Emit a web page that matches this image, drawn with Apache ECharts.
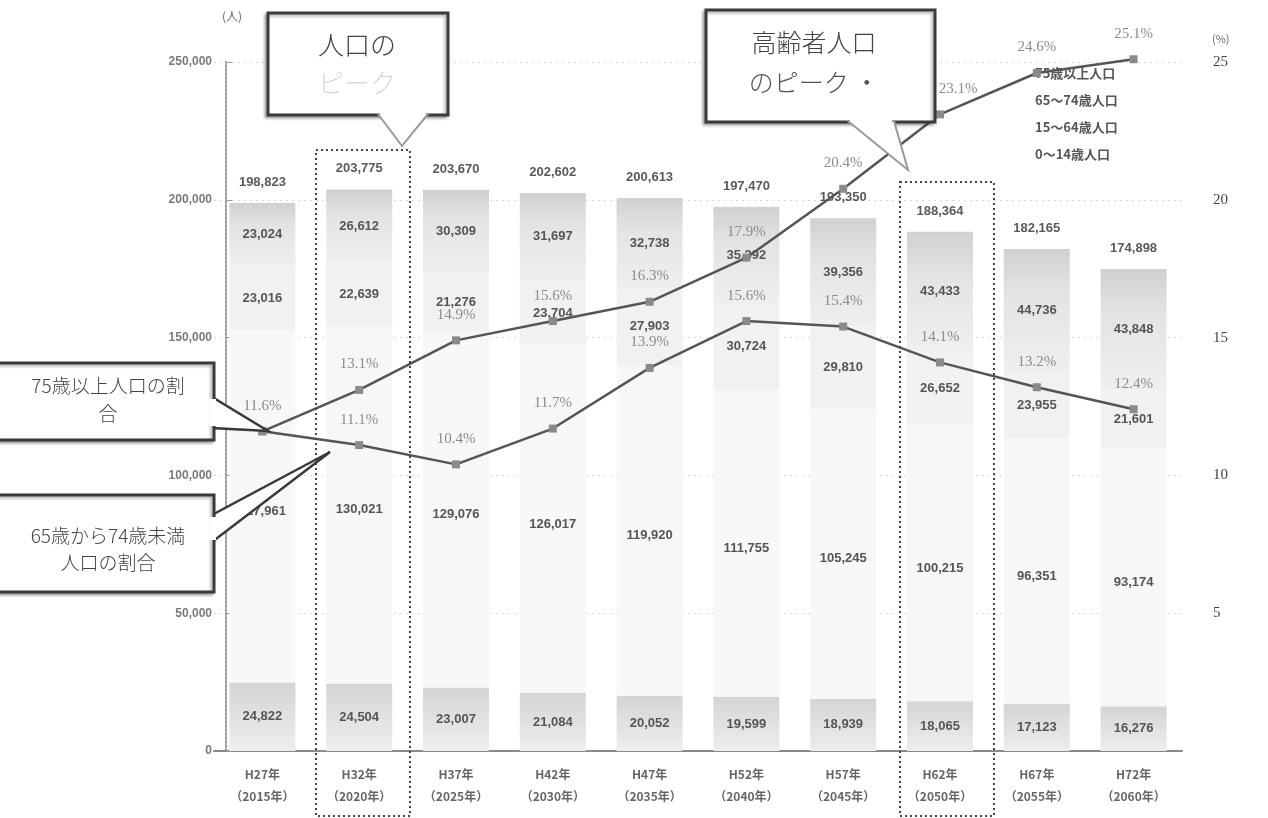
<!DOCTYPE html>
<html><head><meta charset="utf-8">
<script src="https://cdn.jsdelivr.net/npm/echarts@6/dist/echarts.min.js"></script>
<style>html,body{margin:0;padding:0;background:#fff}#c{width:1268px;height:818px}</style>
</head><body><div id="c"></div>
<script>
const categories = ['H27年\n（2015年）','H32年\n（2020年）','H37年\n（2025年）','H42年\n（2030年）','H47年\n（2035年）','H52年\n（2040年）','H57年\n（2045年）','H62年\n（2050年）','H67年\n（2055年）','H72年\n（2060年）'];
const pop0_14  = [24822, 24504, 23007, 21084, 20052, 19599, 18939, 18065, 17123, 16276];
const pop15_64 = [127961, 130021, 129076, 126017, 119920, 111755, 105245, 100215, 96351, 93174];
const pop65_74 = [23016, 22639, 21276, 23704, 27903, 30724, 29810, 26652, 23955, 21601];
const pop75    = [23024, 26612, 30309, 31697, 32738, 35392, 39356, 43433, 44736, 43848];
const totals   = [198823, 203775, 203670, 202602, 200613, 197470, 193350, 188364, 182165, 174898];
const ratio75    = [11.6, 13.1, 14.9, 15.6, 16.3, 17.9, 20.4, 23.1, 24.6, 25.1];
const ratio65_74 = [11.6, 11.1, 10.4, 11.7, 13.9, 15.6, 15.4, 14.1, 13.2, 12.4];
const leftTicks = [0, 50000, 100000, 150000, 200000, 250000];
const rightTicks = [0, 5, 10, 15, 20, 25];

const fmt = v => Number(v).toLocaleString('en-US');
const segLabel = {show:true, position:'inside', color:'#555', fontSize:13, fontWeight:'bold', fontFamily:'Liberation Sans', formatter:p=>fmt(p.value)};
const pctLabel = {show:true, position:'top', distance:14, color:'#8c8c8c', fontSize:15, fontFamily:'Liberation Serif', formatter:p=>p.value.toFixed(1)+'%'};
const BW = 66;

const chart = echarts.init(document.getElementById('c'));
chart.setOption({
  animation:false,
  backgroundColor:'#fff',
  grid:{left:214, right:86, top:62, bottom:67},
  legend:{
    data:['75歳以上人口','65～74歳人口','15～64歳人口','0～14歳人口'],
    orient:'vertical', left:1013, top:62, itemGap:14, itemWidth:12, itemHeight:10,
    itemStyle:{opacity:0},
    textStyle:{color:'#555', fontSize:13, fontWeight:'bold', fontFamily:'Noto Sans CJK JP'}
  },
  xAxis:{type:'category', data:categories,
    axisLine:{lineStyle:{color:'#8a8a8a', width:2}}, axisTick:{show:false},
    axisLabel:{color:'#666', fontSize:12, fontWeight:'bold', lineHeight:22, margin:12, fontFamily:'Noto Sans CJK JP'}},
  yAxis:[
    {type:'value', min:leftTicks[0], max:leftTicks[leftTicks.length-1], interval:50000, offset:-12,
     axisLine:{show:true, lineStyle:{color:'#999', type:'dotted', width:2}},
     axisTick:{show:true, inside:true, length:6, lineStyle:{color:'#999'}},
     axisLabel:{color:'#7a7a7a', fontSize:12, fontWeight:'bold', fontFamily:'Liberation Sans', margin:14, formatter:v=>fmt(v)},
     splitLine:{show:true, lineStyle:{color:'#d8d8d8', type:[2,4]}}},
    {type:'value', min:rightTicks[0], max:rightTicks[rightTicks.length-1], interval:5,
     axisLine:{show:false}, axisTick:{show:false}, splitLine:{show:false},
     axisLabel:{color:'#444', fontSize:15, fontFamily:'Liberation Serif', margin:31, formatter:v=>v===0?'':String(v)}}
  ],
  series:[
    {name:'0～14歳人口', type:'bar', stack:'p', data:pop0_14, barWidth:BW,
     itemStyle:{color:new echarts.graphic.LinearGradient(0,0,0,1,[{offset:0,color:'#d4d4d4'},{offset:1,color:'#eeeeee'}])}, label:segLabel},
    {name:'15～64歳人口', type:'bar', stack:'p', data:pop15_64, barWidth:BW, itemStyle:{color:'#f7f7f7'}, label:{...segLabel, offset:[0,5]}},
    {name:'65～74歳人口', type:'bar', stack:'p', data:pop65_74, barWidth:BW, itemStyle:{color:'#f1f1f1'}, label:segLabel},
    {name:'75歳以上人口', type:'bar', stack:'p', data:pop75, barWidth:BW,
     itemStyle:{color:new echarts.graphic.LinearGradient(0,0,0,1,[{offset:0,color:'#d0d0d0'},{offset:0.35,color:'#e3e3e3'},{offset:1,color:'#efefef'}])}, label:segLabel},
    {name:'total', type:'bar', data:totals, barWidth:BW, barGap:'-100%', z:1, silent:true,
     itemStyle:{color:'rgba(0,0,0,0)'},
     label:{show:true, position:'top', distance:14, color:'#5a5a5a', fontSize:13, fontWeight:'bold', fontFamily:'Liberation Sans', formatter:p=>fmt(p.value)}},
    {name:'75歳以上人口の割合', type:'line', yAxisIndex:1, z:5, clip:false,
     data:ratio75.map((v,i)=> i===7 ? {value:v, label:{offset:[18,0]}} : v),
     lineStyle:{color:'#555', width:2.5}, itemStyle:{color:'#8a8a8a'}, symbol:'rect', symbolSize:8, label:pctLabel},
    {name:'65歳から74歳未満人口の割合', type:'line', yAxisIndex:1, z:5, clip:false,
     data:ratio65_74.map((v,i)=> i===0 ? {value:v, label:{show:false}} : v),
     lineStyle:{color:'#555', width:2.5}, itemStyle:{color:'#8a8a8a'}, symbol:'rect', symbolSize:8, label:pctLabel}
  ],
  graphic:[
    {type:'text', left:222, top:10, style:{text:'(人)', fill:'#666', font:'12px "Noto Sans CJK JP"'}},
    {type:'text', left:1212, top:33, style:{text:'(%)', fill:'#666', font:'11px "Noto Sans CJK JP"'}},
    // dotted highlight boxes
    {type:'rect', z:20, shape:{x:316, y:150, width:94, height:666}, style:{fill:'none', stroke:'#444', lineWidth:2, lineDash:[2,3]}},
    {type:'rect', z:20, shape:{x:900, y:182, width:94, height:634}, style:{fill:'none', stroke:'#444', lineWidth:2, lineDash:[2,3]}},
    // callout A
    {type:'rect', z:30, shape:{x:268, y:13, width:180, height:102}, style:{fill:'#fff', stroke:'#3a3a3a', lineWidth:3, shadowBlur:3, shadowColor:'rgba(0,0,0,0.3)', shadowOffsetX:-2, shadowOffsetY:2}},
    {type:'polygon', z:31, shape:{points:[[378,114],[428,114],[402,146]]}, style:{fill:'#fff', stroke:'#9a9a9a', lineWidth:2}},
    {type:'rect', z:32, shape:{x:380, y:111, width:46, height:4}, style:{fill:'#fff'}},
    {type:'text', z:33, x:357, y:45, style:{text:'人口の', fill:'#444', font:'300 26px "Noto Sans CJK JP"', align:'center', verticalAlign:'middle'}},
    {type:'text', z:33, x:357, y:83, style:{text:'ピーク', fill:'#d8d8d8', font:'300 26px "Noto Sans CJK JP"', align:'center', verticalAlign:'middle'}},
    // callout B
    {type:'rect', z:30, shape:{x:706, y:10, width:229, height:112}, style:{fill:'#fff', stroke:'#3a3a3a', lineWidth:3, shadowBlur:3, shadowColor:'rgba(0,0,0,0.3)', shadowOffsetX:-2, shadowOffsetY:2}},
    {type:'polygon', z:31, shape:{points:[[848,121],[894,121],[908,170]]}, style:{fill:'#fff', stroke:'#9a9a9a', lineWidth:2}},
    {type:'rect', z:32, shape:{x:850, y:118, width:42, height:4}, style:{fill:'#fff'}},
    {type:'text', z:33, x:814, y:42, style:{text:'高齢者人口', fill:'#444', font:'300 25px "Noto Sans CJK JP"', align:'center', verticalAlign:'middle'}},
    {type:'text', z:33, x:814, y:82, style:{text:'のピーク ・', fill:'#555', font:'300 25px "Noto Sans CJK JP"', align:'center', verticalAlign:'middle'}},
    // callout C
    {type:'polygon', z:30, shape:{points:[[212,397],[212,428],[268,431]]}, style:{fill:'#fff', stroke:'#3a3a3a', lineWidth:2.5}},
    {type:'rect', z:31, shape:{x:-4, y:363, width:218, height:77}, style:{fill:'#fff', stroke:'#3a3a3a', lineWidth:3, shadowBlur:3, shadowColor:'rgba(0,0,0,0.3)', shadowOffsetX:-2, shadowOffsetY:2}},
    {type:'rect', z:32, shape:{x:209, y:399, width:7, height:27}, style:{fill:'#fff'}},
    {type:'text', z:33, x:108, y:386, style:{text:'75歳以上人口の割', fill:'#444', font:'300 19px "Noto Sans CJK JP"', align:'center', verticalAlign:'middle'}},
    {type:'text', z:33, x:108, y:414, style:{text:'合', fill:'#444', font:'300 19px "Noto Sans CJK JP"', align:'center', verticalAlign:'middle'}},
    // callout D
    {type:'polygon', z:30, shape:{points:[[212,515],[212,542],[330,452]]}, style:{fill:'#fff', stroke:'#3a3a3a', lineWidth:2.5}},
    {type:'rect', z:31, shape:{x:-4, y:495, width:218, height:97}, style:{fill:'#fff', stroke:'#3a3a3a', lineWidth:3, shadowBlur:3, shadowColor:'rgba(0,0,0,0.3)', shadowOffsetX:-2, shadowOffsetY:2}},
    {type:'rect', z:32, shape:{x:209, y:517, width:7, height:23}, style:{fill:'#fff'}},
    {type:'text', z:33, x:108, y:536, style:{text:'65歳から74歳未満', fill:'#444', font:'300 19px "Noto Sans CJK JP"', align:'center', verticalAlign:'middle'}},
    {type:'text', z:33, x:108, y:563, style:{text:'人口の割合', fill:'#444', font:'300 19px "Noto Sans CJK JP"', align:'center', verticalAlign:'middle'}}
  ]
});
</script></body></html>
